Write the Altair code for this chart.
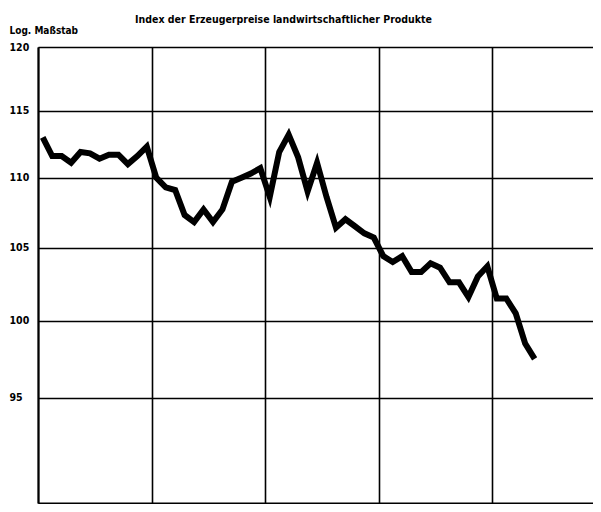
import altair as alt
import pandas as pd

# Monthly index values (Erzeugerpreise landwirtschaftlicher Produkte)
jahr1 = [113.0, 111.6, 111.6, 111.1, 111.9, 111.8, 111.4, 111.7, 111.7, 111.0, 111.6, 112.3]
jahr2 = [110.0, 109.3, 109.1, 107.3, 106.8, 107.7, 106.8, 107.7, 109.7, 110.0, 110.3, 110.7]
jahr3 = [108.6, 111.9, 113.2, 111.5, 109.0, 111.1, 108.6, 106.4, 107.0, 106.5, 106.0, 105.7]
jahr4 = [104.4, 104.0, 104.4, 103.3, 103.3, 103.9, 103.6, 102.6, 102.6, 101.6, 103.0, 103.7]
jahr5 = [101.5, 101.5, 100.5, 98.5, 97.5]

werte = jahr1 + jahr2 + jahr3 + jahr4 + jahr5
monate = list(range(1, len(werte) + 1))

y_ticks = [95, 100, 105, 110, 115, 120]
x_grid = [0, 12, 24, 36, 48]

df = pd.DataFrame({"monat": monate, "index": werte})

FONT = "DejaVu Sans Condensed, Liberation Sans Narrow, Roboto, sans-serif"

chart = (
    alt.Chart(df)
    .transform_calculate(pos="datum.monat - 0.5")
    .mark_line(color="black", strokeWidth=6, strokeJoin="miter", clip=True)
    .encode(
        x=alt.X(
            "pos:Q",
            scale=alt.Scale(domain=[0, 58.67], nice=False, zero=False),
            axis=alt.Axis(
                values=x_grid, labels=False, ticks=False, title=None,
                grid=True, gridColor="black", gridWidth=1.6, gridOpacity=1,
                domain=True, domainColor="black", domainWidth=2,
            ),
        ),
        y=alt.Y(
            "index:Q",
            scale=alt.Scale(type="log", domain=[88.58, 120], nice=False, zero=False),
            axis=alt.Axis(
                values=y_ticks, format="d", ticks=False, tickSize=0,
                grid=True, gridColor="black", gridWidth=1.6, gridOpacity=1,
                domain=True, domainColor="black", domainWidth=2,
                labelAlign="left", labelBaseline="middle", labelPadding=29,
                labelFont=FONT, labelFontSize=10.5, labelFontWeight="bold", labelColor="black",
                title="Log. Maßstab", titleAngle=0, titleAlign="left", titleBaseline="middle",
                titleX=-29, titleY=-17, titleFont=FONT, titleFontSize=10,
                titleFontWeight="bold", titleColor="black",
            ),
        ),
    )
    .properties(
        width=555,
        height=456,
        title=alt.TitleParams(
            "Index der Erzeugerpreise landwirtschaftlicher Produkte",
            font=FONT, fontSize=10.5, fontWeight="bold", color="black",
            anchor="middle", frame="group", dx=-32, dy=12, baseline="alphabetic", offset=4,
        ),
        autosize=alt.AutoSizeParams(type="none"),
        padding={"left": 30, "top": 39, "right": 0, "bottom": 1},
    )
    .configure_view(stroke=None)
    .configure(background="white")
)

chart.save("out.html", embed_options={"renderer": "svg", "actions": False})
